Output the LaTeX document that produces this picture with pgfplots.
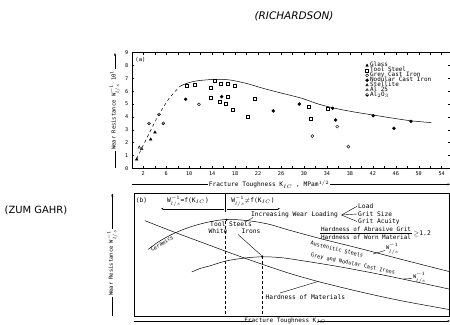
\documentclass[border=0pt]{standalone}
\usepackage{fontspec}
\setmainfont{DejaVu Sans}
\setmonofont{DejaVu Sans Mono}
\usepackage{pgfplots}
\pgfplotsset{compat=1.18}
\usetikzlibrary{plotmarks,arrows.meta}
\begin{document}
\begin{tikzpicture}[x=1bp,y=1bp,
  bt/.style={font=\fontsize{6.3}{6.5}\selectfont\ttfamily, inner sep=0.5bp},
  bs/.style={font=\fontsize{5.3}{5.5}\selectfont\ttfamily, inner sep=0.3bp}]
\useasboundingbox (0,0) rectangle (450,324);
\node[font=\fontsize{10.5}{12}\selectfont\itshape] at (294,308) {(RICHARDSON)};
\node[font=\fontsize{10}{12}\selectfont] at (36,114) {(ZUM GAHR)};

% ---------------- panel (a)
\begin{axis}[
  at={(131.8bp,155.7bp)}, anchor=south west,
  scale only axis, width=318.2bp, height=115.7bp,
  xmin=0, xmax=55.45, ymin=0, ymax=9,
  xtick={2,6,...,54}, minor xtick={4,8,...,52},
  ytick={0,1,...,9},
  /pgf/number format/assume math mode=true,
  tick label style={font=\fontsize{5.2}{5.2}\selectfont\ttfamily},
  major tick length=2bp, minor tick length=2bp,
  tick style={line width=0.4bp, black},
  axis line style={line width=0.6bp},
  clip=false,
  legend cell align=left,
  legend style={at={(axis cs:40.7,8.2)}, anchor=north west, draw=none, fill=none,
    inner sep=0pt, font=\fontsize{6}{6}\selectfont\ttfamily,
    nodes={inner sep=0.3bp, text height=3.5bp, text depth=0.8bp},
    row sep=0pt, column sep=1.2bp},
  lgm/.style={only marks, mark size=1.5bp, line width=0.4bp,
    legend image code/.code={\draw[##1] plot coordinates {(0bp,0bp)};}},
]
\addplot[dashed, line width=0.5bp, forget plot] coordinates {
 (0.85,0.75) (2.5,2.25) (4.7,4.2) (6.5,5.45) (8.3,6.35)};
\addplot[smooth, line width=0.5bp, forget plot] coordinates {
 (8.3,6.35) (9.5,6.6) (11.3,6.8) (14.5,6.92) (17.1,6.87) (20,6.6) (22.9,6.22)
 (25.8,5.88) (29.6,5.45) (32.5,5.0) (35.4,4.67) (38.5,4.4) (42.1,4.14)
 (45.5,3.9) (48.6,3.7) (52.2,3.55)};
\addplot[lgm, mark=triangle*, mark options={fill=black}] coordinates {
 (0.85,0.7) (3.29,2.25) (4.04,2.8)};
\addlegendentry{Glass}
\addplot[lgm, mark=square] coordinates {
 (9.56,6.42) (10.89,6.5) (13.75,6.3) (14.44,6.79) (15.49,6.6) (16.71,6.6)
 (17.98,6.45) (13.75,5.47) (15.37,5.16) (16.71,5.57) (16.41,5.05) (17.51,4.59)
 (21.46,5.39) (20.19,4.01) (30.75,4.79) (31.22,3.83) (34.13,4.64)};
\addlegendentry{Tool Steel}
\addplot[lgm, mark=o] coordinates {
 (11.7,4.98) (31.45,2.51) (35.8,3.24) (37.72,1.68)};
\addlegendentry{Grey Cast Iron}
\addplot[lgm, mark=*, mark options={fill=black}] coordinates {
 (9.39,5.37) (15.66,5.57) (24.65,4.46) (29.18,5.0) (35.0,4.67) (35.52,3.76)
 (42.07,4.09) (45.68,3.11) (48.64,3.65)};
\addlegendentry{Nodular Cast Iron}
\addplot[lgm, mark=triangle*, mark options={fill=gray}] coordinates {(1.72,1.5)};
\addlegendentry{Stellite}
\addplot[lgm, mark=triangle] coordinates {(1.31,1.63)};
\addlegendentry{Al 25}
\addplot[lgm, mark=halfsquare*, mark options={fill=black}] coordinates {
 (3.0,3.5) (4.74,4.2) (5.49,3.5)};
\addlegendentry{Al$_2$O$_3$}
\node[font=\fontsize{5.5}{6}\selectfont\ttfamily] at (axis cs:1.5,8.45) {(a)};
\end{axis}

% axis titles of (a)
\draw[line width=0.5bp] (131.7,139.7) -- (208,139.7);
\draw[line width=0.5bp,-{Stealth[length=2.5bp]}] (330,139.7) -- (450,139.7);
\node[font=\fontsize{6.2}{6.5}\selectfont\ttfamily] at (269,139.7) {Fracture Toughness K$_{IC}$ , MPam$^{1/2}$};
\draw[line width=0.6bp,-{Stealth[length=3bp]}] (115,156) -- (115,271);
\node[rotate=90, fill=white, inner sep=1bp, font=\fontsize{5.5}{6}\selectfont\ttfamily] at (115,214) {Wear Resistance W$^{-1}_{l/s}$ 10$^{1}$};

% ---------------- panel (b)
\begin{axis}[
  at={(134bp,8bp)}, anchor=south west,
  scale only axis, width=315bp, height=122.5bp,
  xmin=134, xmax=449, ymin=193.5, ymax=316, y dir=reverse,
  xtick=\empty, ytick=\empty,
  axis line style={line width=0.6bp},
  clip=false,
]
% upper arc -> Austenitic steels line
\addplot[smooth, line width=0.5bp] coordinates {
 (148,249.5) (156,243.5) (165,238) (176,232.5) (190,227) (205,222.8) (218,220.3)
 (227,219.5) (240,219.9) (255,221.6) (270,224.5) (288,229.8) (320,238.5)
 (360,248.5) (400,259) (449,271.5)};
% lower arc -> cast irons line
\addplot[smooth, line width=0.5bp] coordinates {
 (191.7,272) (200,268.5) (210,265.8) (226.7,260.8) (246.7,257.8) (262,256.8)
 (275,257.2) (290,258.8) (338,266.5) (388,276) (449,289)};
% hardness of materials line
\addplot[smooth, line width=0.5bp] coordinates {
 (145,220.7) (170,230.5) (200,241.7) (230,252.8) (260,263.5) (290,273.5)
 (320,282) (360,291.8) (400,300.5) (449,309.5)};
% dashed verticals
\addplot[densely dashed, line width=0.6bp] coordinates {(225,221) (225,316)};
\addplot[densely dashed, line width=0.6bp] coordinates {(262.3,256.5) (262.3,316)};
\addplot[only marks, mark=*, mark size=0.8bp] coordinates {(262.3,256.5) (226.5,219.8)};

\node[bt] at (axis cs:141.5,201) {(b)};
\node[bt] at (axis cs:188,201.5) {W$^{-1}_{l/s}$=f(K$_{IC}$)};
\node[bt] at (axis cs:253,201.5) {W$^{-1}_{l/s}$$\neq$f(K$_{IC}$)};
\draw[line width=0.5bp,-{Stealth[length=2.5bp]}] (axis cs:224,208.8) -- (axis cs:161,208.8);
\draw[line width=0.5bp,-{Stealth[length=2.5bp]}] (axis cs:227,208.8) -- (axis cs:280,208.8);
\draw[line width=0.5bp] (axis cs:225.5,194) -- (axis cs:225.5,212);

\node[bt] at (axis cs:294.5,215) {Increasing Wear Loading};
\draw[line width=0.4bp] (axis cs:341.5,215) -- (axis cs:357,206.3);
\draw[line width=0.4bp] (axis cs:341.5,215) -- (axis cs:357,214);
\draw[line width=0.4bp] (axis cs:341.5,215) -- (axis cs:357,221.5);
\node[bt,anchor=west] at (axis cs:357.5,206) {Load};
\node[bt,anchor=west] at (axis cs:357.5,213.8) {Grit Size};
\node[bt,anchor=west] at (axis cs:357.5,221.3) {Grit Acuity};

\node[bt, font=\fontsize{6}{6}\selectfont\ttfamily] at (axis cs:366,229.3) {Hardness of Abrasive Grit};
\node[bt, font=\fontsize{6}{6}\selectfont\ttfamily] at (axis cs:366,237.7) {Hardness of Worn Material};
\draw[line width=0.5bp] (axis cs:320,233.3) -- (axis cs:412,233.3);
\node[bt,anchor=west] at (axis cs:413,233.3) {$\geq$1.2};

\node[bt] at (axis cs:231,224) {Tool Steels};
\node[bt] at (axis cs:218,231.5) {White};
\node[bt] at (axis cs:251,231.5) {Irons};
\draw[line width=0.4bp] (axis cs:246,221.5) -- (axis cs:253,217.5);
\draw[line width=0.4bp] (axis cs:238,234.5) -- (axis cs:261.5,255.5);

\node[bs, rotate=31] at (axis cs:162,243.5) {Ceramics};
\node[bs, rotate=-14] at (axis cs:337,249.3) {Austenitic Steels};
\node[bs, rotate=-12] at (axis cs:353,264.2) {Grey and Nodular Cast Irons};
\draw[line width=0.4bp] (axis cs:373,254) -- (axis cs:385,250.5);
\node[bs,anchor=west] at (axis cs:385.5,249) {W$^{-1}_{l/s}$};
\draw[line width=0.4bp] (axis cs:403,279) -- (axis cs:412,278.5);
\node[bs,anchor=west] at (axis cs:412.5,278) {W$^{-1}_{l/s}$};
\node[bt,anchor=west] at (axis cs:265,297.5) {Hardness of Materials};
\draw[line width=0.4bp] (axis cs:280,293) -- (axis cs:318,281.5);
\end{axis}

% axis titles of (b)
\draw[line width=0.5bp] (134,3) -- (252,3);
\draw[line width=0.5bp,-{Stealth[length=2.5bp]}] (318,3) -- (450,3);
\node[font=\fontsize{6}{6}\selectfont\ttfamily, inner sep=0.5bp] at (285,3) {Fracture Toughness K$_{IC}$};
\draw[line width=0.6bp,-{Stealth[length=3bp]}] (112.3,8) -- (112.3,130.5);
\node[rotate=90, fill=white, inner sep=1bp, font=\fontsize{5.5}{6}\selectfont\ttfamily] at (112.3,61) {Wear Resistance W$^{-1}_{l/s}$};
\end{tikzpicture}
\end{document}
